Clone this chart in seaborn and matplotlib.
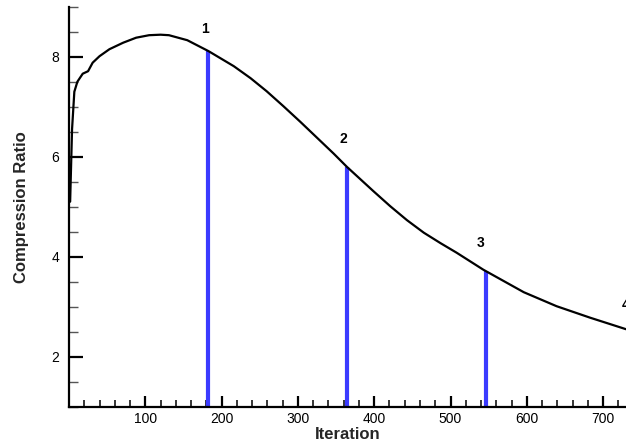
import numpy as np
import pandas as pd
import matplotlib
matplotlib.use("Agg")
import matplotlib.pyplot as plt
import seaborn as sns
from matplotlib.ticker import MultipleLocator

# ---- data ----
iterations = [1.5, 4, 7, 11, 18, 25, 31, 40, 53, 71, 88, 105, 120, 131, 155, 183,
              216, 238, 259, 281, 303, 325, 347, 364, 399, 421, 443, 465, 487,
              508, 543, 596, 639, 683, 730]
compression = [5.1, 6.55, 7.3, 7.5, 7.66, 7.71, 7.88, 8.01, 8.15, 8.28, 8.38, 8.43,
               8.44, 8.43, 8.33, 8.11, 7.81, 7.57, 7.31, 7.01, 6.70, 6.38, 6.06,
               5.80, 5.31, 5.01, 4.73, 4.48, 4.27, 4.08, 3.74, 3.29, 3.01, 2.78, 2.55]

marker_iters = [182, 364, 546]
marker_ratios = [8.11, 5.80, 3.72]

label_texts = ["1", "2", "3", "4"]
label_iters = [178, 360, 540, 729]
label_ratios = [8.55, 6.35, 4.28, 3.04]

x_major = [100, 200, 300, 400, 500, 600, 700]
y_major = [2, 4, 6, 8]

# ---- style ----
sns.set_style("white")
plt.rcParams["font.family"] = ["Liberation Sans", "DejaVu Sans"]

W, H = 626, 448
fig = plt.figure(figsize=(W / 100, H / 100), dpi=100)
ax = fig.add_axes([69 / W, 1 - 406.7 / H, 1 - 69 / W, 400 / H])

df = pd.DataFrame({"Iteration": iterations, "Compression Ratio": compression})
ax.vlines(marker_iters, 1, marker_ratios, color="#3b3bff", lw=3, zorder=2)
sns.lineplot(data=df, x="Iteration", y="Compression Ratio", ax=ax,
             color="black", lw=1.6, zorder=3)

for t, xi, yi in zip(label_texts, label_iters, label_ratios):
    ax.text(xi, yi, t, ha="center", va="center", fontsize=10,
            fontweight="bold", color="black", clip_on=False)

ax.set_xlim(0, 730)
ax.set_ylim(1, 9)
ax.set_xticks(x_major)
ax.set_yticks(y_major)
ax.xaxis.set_minor_locator(MultipleLocator(20))
ax.yaxis.set_minor_locator(MultipleLocator(0.5))

ax.tick_params(which="both", bottom=True, left=True, top=False, right=False)
ax.tick_params(axis="x", which="major", direction="in", length=7.7, width=1.6,
               pad=3.8, labelsize=10, colors="black")
ax.tick_params(axis="x", which="minor", direction="in", length=4.8, width=1.1,
               colors="black")
ax.tick_params(axis="y", which="major", direction="in", length=10, width=1.6,
               pad=7, labelsize=10, colors="black")
ax.tick_params(axis="y", which="minor", direction="in", length=6.2, width=1.0,
               colors="#555555")

for s in ["top", "right"]:
    ax.spines[s].set_visible(False)
for s in ["left", "bottom"]:
    ax.spines[s].set_linewidth(1.6)
    ax.spines[s].set_color("black")

ax.set_xlabel("Iteration", fontsize=12, fontweight="bold", labelpad=1)
ax.set_ylabel("Compression Ratio", fontsize=12, fontweight="bold")
ax.yaxis.set_label_coords(-0.072, 0.5)
ax.grid(False)

fig.savefig("out.png", dpi=100)
